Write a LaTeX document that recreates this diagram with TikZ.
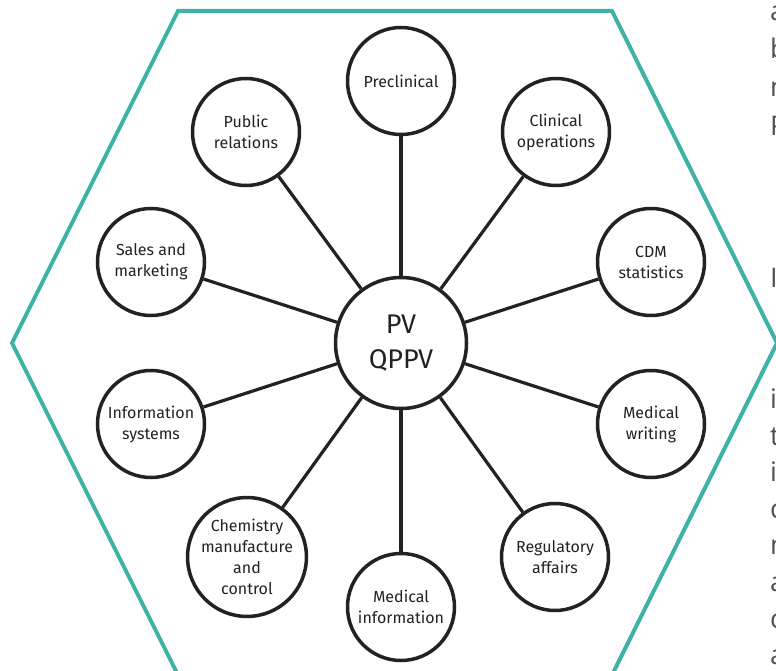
\documentclass[tikz,border=0pt]{standalone}
\usepackage{fontspec}
\setmainfont{Fira Sans}
\newfontfamily\bodyfont{Open Sans}
\definecolor{hexteal}{RGB}{62,178,164}
\definecolor{ink}{RGB}{34,34,34}
\definecolor{bodygray}{RGB}{80,80,80}
\begin{document}
\begin{tikzpicture}[x=1pt,y=-1pt,
  unit/.style={circle,draw=ink,line width=3.5pt,fill=white,minimum size=107pt,
    inner sep=0pt,align=center,font=\fontsize{16}{21}\selectfont,text=ink},
  hub/.style={circle,draw=ink,line width=3.5pt,fill=white,minimum size=131pt,
    inner sep=0pt,align=center,font=\fontsize{27}{35}\selectfont,text=ink},
  spoke/.style={draw=ink,line width=3.2pt},
  frame/.style={draw=hexteal,line width=4pt,line join=miter},
  runon/.style={anchor=base west,inner sep=0pt,text=bodygray,
    font=\bodyfont\fontsize{27}{27}\selectfont}]
\useasboundingbox (0,0) rectangle (776,671);
\clip (0,0) rectangle (776,671);
\fill[white] (0,0) rectangle (776,671);

% hexagonal frame
\draw[frame] (178,11) -- (612,11) -- (777,343) -- (612,675) -- (178,675) -- (12,343) -- cycle;

% paragraph text running past the right edge
\node[runon] (r1) at (770,21) {a};
\node[runon] (r2) at (770,59) {b};
\node[runon] (r3) at (770,97) {n};
\node[runon] (r4) at (770,136) {P};
\node[runon] (r5) at (770,287) {I};
\node[runon] (r6) at (770,408) {i};
\node[runon] (r7) at (770,445) {t};
\node[runon] (r8) at (770,481) {i};
\node[runon] (r9) at (770,518) {c};
\node[runon] (r10) at (770,554) {n};
\node[runon] (r11) at (770,591) {a};
\node[runon] (r12) at (770,628) {c};
\node[runon] (r13) at (770,664) {a};

% hub and departments
\node[hub] (hub) at (401,343) {PV\\QPPV};
\node[unit] (pre) at (401,81) {Preclinical};
\node[unit] (clin) at (556,132) {Clinical\\operations};
\node[unit] (cdm) at (651,262) {CDM\\statistics};
\node[unit] (mw) at (651,424) {Medical\\writing};
\node[unit] (reg) at (555,557) {Regulatory\\affairs};
\node[unit] (mi) at (401,607) {Medical\\information};
\node[unit] (cmc) at (247,557) {Chemistry\\manufacture\\and\\control};
\node[unit] (is) at (151,424) {Information\\systems};
\node[unit] (sm) at (151,262) {Sales and\\marketing};
\node[unit] (pr) at (246,132) {Public\\relations};

% spokes
\foreach \n in {pre,clin,cdm,mw,reg,mi,cmc,is,sm,pr}
  \draw[spoke] (hub) -- (\n);
\end{tikzpicture}
\end{document}
